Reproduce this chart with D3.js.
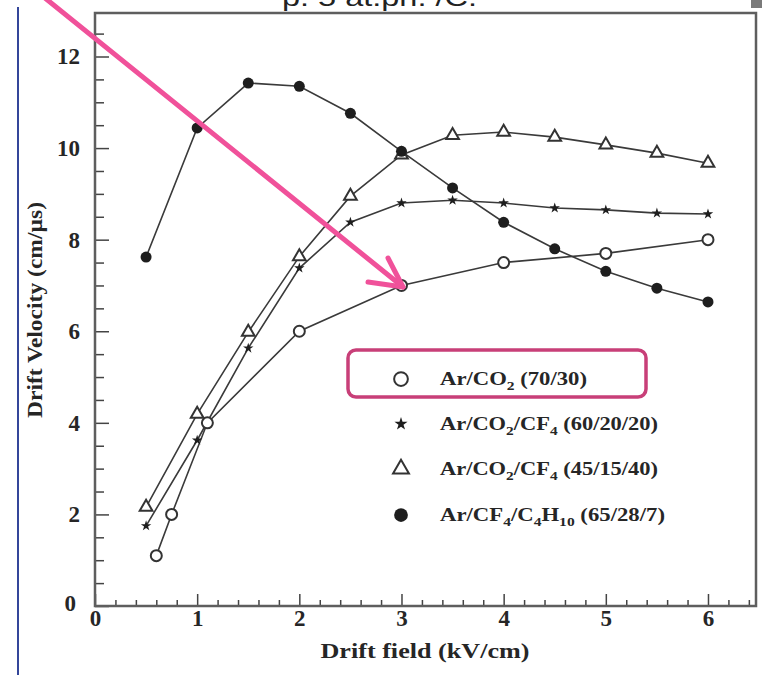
<!DOCTYPE html>
<html>
<meta charset="utf-8">
<head>
  <script src="https://d3js.org/d3.v7.min.js"></script>
</head>
<style>
  body { margin: 0; background: #fff; }
  svg text { font-family: "Liberation Serif", "DejaVu Serif", serif; font-weight: bold; fill: #262626; }
  .tick line { stroke: #444; stroke-width: 1.5; }
</style>
<body>
<script>
// drift field (kV/cm) and drift velocity (cm/us)
var fieldCO2 = [0.6, 0.75, 1.1, 2.0, 3.0, 4.0, 5.0, 6.0];
var velCO2   = [1.1, 2.0, 4.0, 6.0, 7.0, 7.5, 7.7, 8.0];

var fieldStep = [0.5, 1.0, 1.5, 2.0, 2.5, 3.0, 3.5, 4.0, 4.5, 5.0, 5.5, 6.0];
var velCF4a = [1.75, 3.62, 5.63, 7.38, 8.38, 8.8, 8.86, 8.8, 8.69, 8.65, 8.58, 8.56];
var velCF4b = [2.16, 4.19, 5.98, 7.63, 8.95, 9.85, 10.28, 10.35, 10.24, 10.07, 9.89, 9.67];
var velC4H10 = [7.62, 10.44, 11.42, 11.35, 10.76, 9.93, 9.13, 8.38, 7.8, 7.31, 6.94, 6.64];

var xTicks = [0, 1, 2, 3, 4, 5, 6];
var yTicks = [0, 2, 4, 6, 8, 10, 12];

var width = 762, height = 675;
var svg = d3.select("body").append("svg").attr("width", width).attr("height", height);

var x = d3.scaleLinear().domain([0, 6.47]).range([95, 756]);
var y = d3.scaleLinear().domain([0, 12.95]).range([606, 13]);

// slide bits around the chart
svg.append("line").attr("x1", 18).attr("x2", 18).attr("y1", 7).attr("y2", 675)
  .attr("stroke", "#34469a").attr("stroke-width", 2);
svg.append("rect").attr("x", 751).attr("y", 0).attr("width", 11).attr("height", 8).attr("fill", "#7a7a7a");
svg.append("text").attr("x", 282).attr("y", 6).attr("textLength", 195).attr("lengthAdjust", "spacingAndGlyphs")
  .style("font-family", "'Liberation Sans', sans-serif").style("font-weight", "normal")
  .style("font-size", "24px").style("fill", "#222").text("p. 5 at.pn. /C.");

// minor ticks
var xMinor = d3.range(0, 6.5, 0.2).filter(function(d) { return Math.abs(d - Math.round(d)) > 0.01; });
var yMinor = d3.range(0.5, 12.95, 0.5).filter(function(d) { return d % 2 !== 0; });

svg.append("g").attr("transform", "translate(0,606)")
  .call(d3.axisBottom(x).tickValues(xMinor).tickSize(-6).tickFormat(""))
  .call(function(g) { g.select(".domain").remove(); });
svg.append("g").attr("transform", "translate(95,0)")
  .call(d3.axisLeft(y).tickValues(yMinor).tickSize(-9).tickFormat(""))
  .call(function(g) { g.select(".domain").remove(); });

var xAxis = svg.append("g").attr("transform", "translate(0,606)")
  .call(d3.axisBottom(x).tickValues(xTicks).tickSize(-12).tickFormat(d3.format("d")));
xAxis.select(".domain").remove();
xAxis.selectAll("text").attr("y", 4).style("font-size", "23px").style("fill", "#262626");

var yAxis = svg.append("g").attr("transform", "translate(95,0)")
  .call(d3.axisLeft(y).tickValues(yTicks).tickSize(-14).tickFormat(d3.format("d")));
yAxis.select(".domain").remove();
yAxis.selectAll("text").attr("x", -15).style("font-size", "23px").style("fill", "#262626");
yAxis.selectAll(".tick").filter(function(d) { return d === 0; }).select("text").attr("dy", "0.2em").attr("x", -19);

// frame
svg.append("rect").attr("x", 95).attr("y", 13).attr("width", 661).attr("height", 593)
  .attr("fill", "none").attr("stroke", "#5e5e5e").attr("stroke-width", 2.5);

// axis titles
svg.append("text").attr("x", 425).attr("y", 658).attr("text-anchor", "middle")
  .attr("textLength", 209).attr("lengthAdjust", "spacingAndGlyphs")
  .style("font-size", "22px").text("Drift field (kV/cm)");
svg.append("text").attr("transform", "translate(42,310) rotate(-90)").attr("text-anchor", "middle")
  .attr("textLength", 216).attr("lengthAdjust", "spacingAndGlyphs")
  .style("font-size", "21px").text("Drift Velocity (cm/\u00b5s)");

var line = d3.line().x(function(d) { return x(d[0]); }).y(function(d) { return y(d[1]); });
function pts(xs, ys) { return xs.map(function(v, i) { return [v, ys[i]]; }); }

var series = [
  { data: pts(fieldCO2, velCO2), sym: "circleOpen" },
  { data: pts(fieldStep, velCF4a), sym: "star" },
  { data: pts(fieldStep, velCF4b), sym: "triangle" },
  { data: pts(fieldStep, velC4H10), sym: "circleFill" }
];

function drawSymbol(g, kind, cx, cy, big) {
  var k = big ? 1.25 : 1;
  if (kind === "circleOpen") {
    g.append("circle").attr("cx", cx).attr("cy", cy).attr("r", 5.5 * k)
      .attr("fill", "#fff").attr("stroke", "#333").attr("stroke-width", 2);
  } else if (kind === "circleFill") {
    g.append("circle").attr("cx", cx).attr("cy", cy).attr("r", 5.5 * k).attr("fill", "#1e1e1e");
  } else if (kind === "triangle") {
    g.append("path").attr("transform", "translate(" + cx + "," + cy + ")")
      .attr("d", d3.symbol().type(d3.symbolTriangle).size(70 * k * k)())
      .attr("fill", "#fff").attr("stroke", "#333").attr("stroke-width", 2);
  } else {
    g.append("path").attr("transform", "translate(" + cx + "," + cy + ")")
      .attr("d", d3.symbol().type(d3.symbolStar).size(34 * k * k)())
      .attr("fill", "#1e1e1e");
  }
}

series.forEach(function(s) {
  svg.append("path").datum(s.data).attr("d", line)
    .attr("fill", "none").attr("stroke", "#3a3a3a").attr("stroke-width", 1.6);
});
series.forEach(function(s) {
  var g = svg.append("g");
  s.data.forEach(function(d) { drawSymbol(g, s.sym, x(d[0]), y(d[1]), false); });
});

// legend
var legendLabels = [
  [["Ar/CO", 0], ["2", 1], [" (70/30)", 0]],
  [["Ar/CO", 0], ["2", 1], ["/CF", 0], ["4", 1], [" (60/20/20)", 0]],
  [["Ar/CO", 0], ["2", 1], ["/CF", 0], ["4", 1], [" (45/15/40)", 0]],
  [["Ar/CF", 0], ["4", 1], ["/C", 0], ["4", 1], ["H", 0], ["10", 1], [" (65/28/7)", 0]]
];
var legendWidths = [147, 218, 218, 225];
var legendY = [379, 424, 469, 515];
var lg = svg.append("g");
series.forEach(function(s, i) {
  drawSymbol(lg, s.sym, 401, legendY[i], true);
  var t = lg.append("text").attr("x", 440).attr("y", legendY[i] + 6)
    .attr("textLength", legendWidths[i]).attr("lengthAdjust", "spacingAndGlyphs")
    .style("font-size", "19px");
  legendLabels[i].forEach(function(p, j) {
    var prev = j > 0 ? legendLabels[i][j - 1][1] : 0;
    var dy = p[1] === prev ? 0 : (p[1] ? 5 : -5);
    t.append("tspan").attr("dy", dy).style("font-size", p[1] ? "13px" : "19px").text(p[0]);
  });
});

// annotation highlight box and arrow
svg.append("rect").attr("x", 348).attr("y", 350).attr("width", 298).attr("height", 47).attr("rx", 8)
  .attr("fill", "none").attr("stroke", "#c83f78").attr("stroke-width", 3.5);
var pink = "#f0519a";
svg.append("line").attr("x1", 40).attr("y1", -6).attr("x2", 403).attr("y2", 287)
  .attr("stroke", pink).attr("stroke-width", 5).attr("stroke-linecap", "round");
svg.append("path").attr("d", "M388,258 L403,287 L368,282")
  .attr("fill", "none").attr("stroke", pink).attr("stroke-width", 5)
  .attr("stroke-linecap", "round").attr("stroke-linejoin", "round");
</script>
</body>
</html>
